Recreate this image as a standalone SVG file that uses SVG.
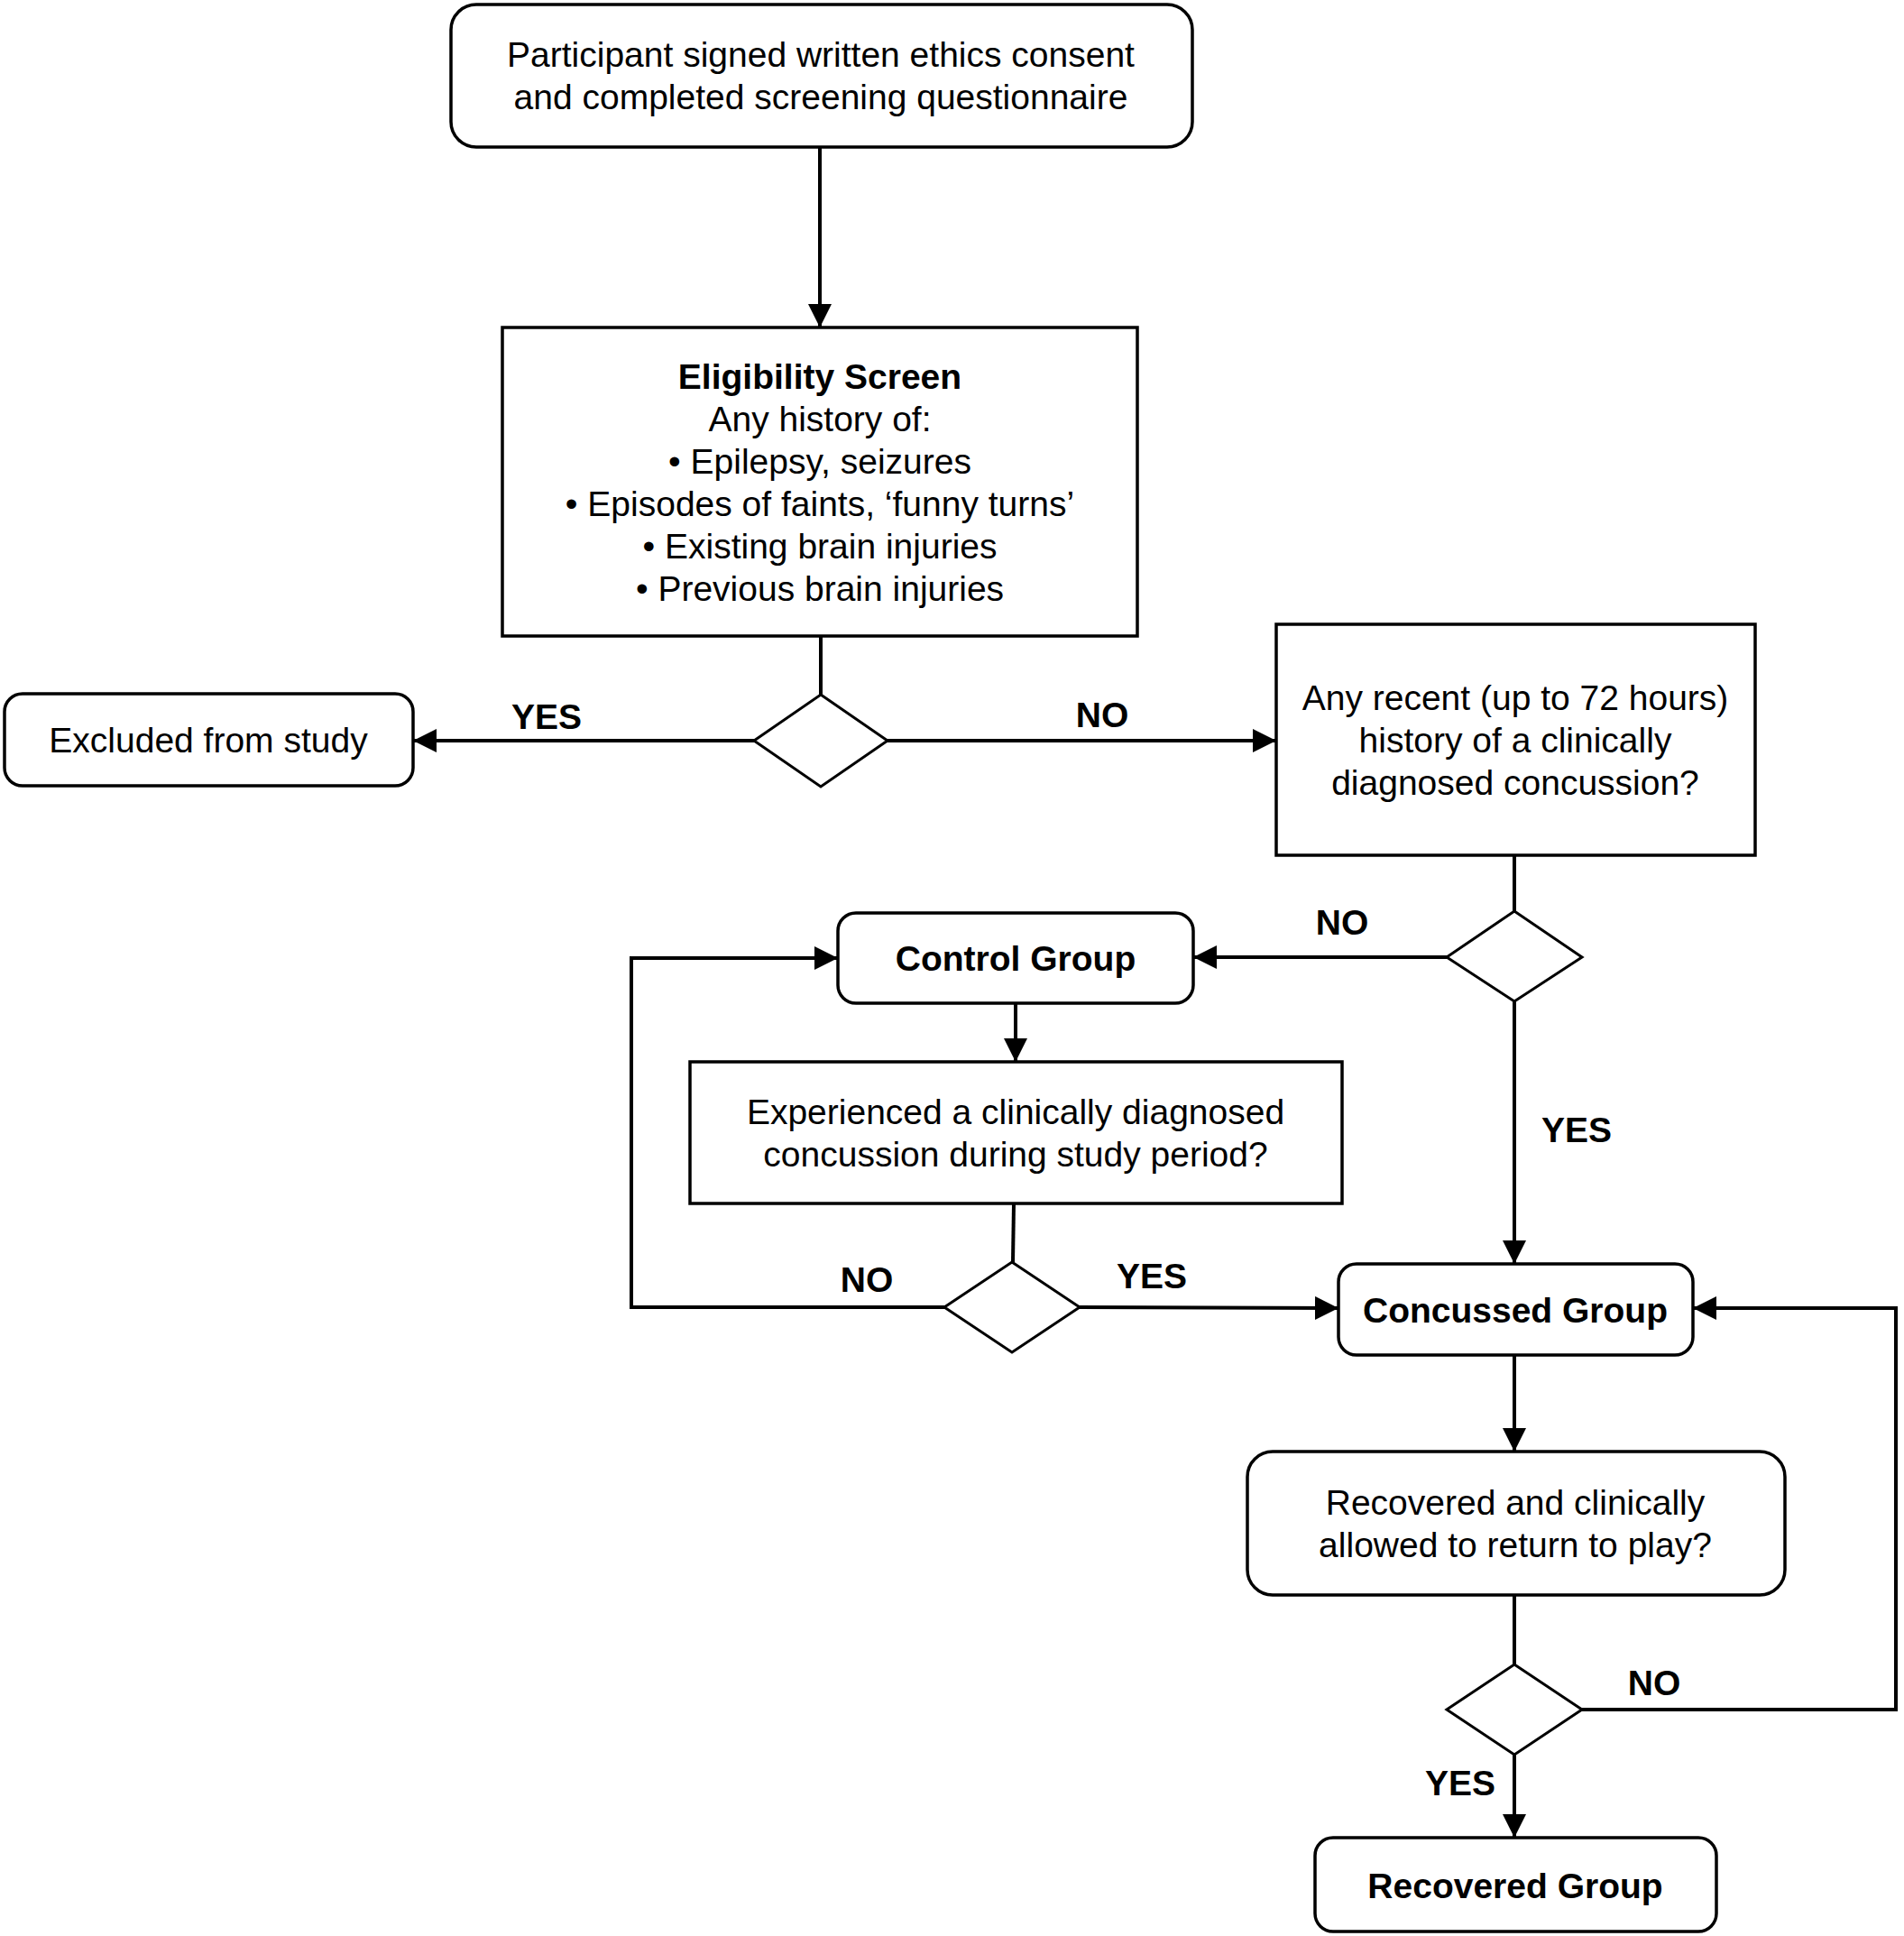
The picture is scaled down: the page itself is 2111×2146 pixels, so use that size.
<svg xmlns="http://www.w3.org/2000/svg" width="2111" height="2146" viewBox="0 0 2111 2146">
<style>
.box{fill:#fff;stroke:#000;stroke-width:3.5}
.dia{fill:#fff;stroke:#000;stroke-width:3}
.t{font-family:"Liberation Sans",Arial,sans-serif;font-size:39px;fill:#000;text-anchor:middle}
.b{font-weight:bold}
.c{fill:none;stroke:#000;stroke-width:4}
</style>
<defs>
<marker id="ah" markerUnits="userSpaceOnUse" markerWidth="27" markerHeight="27" refX="26" refY="13" orient="auto">
<path d="M0,0 L26,13 L0,26 Z" fill="#000"/>
</marker>
</defs>
<rect width="2111" height="2146" fill="#fff"/>
<g id="connectors">
<line class="c" x1="909" y1="163" x2="909" y2="363" marker-end="url(#ah)"/>
<line class="c" x1="910" y1="705" x2="910" y2="770"/>
<line class="c" x1="836" y1="821" x2="458" y2="821" marker-end="url(#ah)"/>
<line class="c" x1="984" y1="821" x2="1415" y2="821" marker-end="url(#ah)"/>
<line class="c" x1="1679" y1="948" x2="1679" y2="1010"/>
<line class="c" x1="1604" y1="1061" x2="1323" y2="1061" marker-end="url(#ah)"/>
<line class="c" x1="1679" y1="1110" x2="1679" y2="1401" marker-end="url(#ah)"/>
<line class="c" x1="1126" y1="1112" x2="1126" y2="1177" marker-end="url(#ah)"/>
<line class="c" x1="1124" y1="1334" x2="1123" y2="1399"/>
<polyline class="c" points="1047,1449 700,1449 700,1062 929,1062" marker-end="url(#ah)"/>
<line class="c" x1="1197" y1="1449" x2="1484" y2="1450" marker-end="url(#ah)"/>
<line class="c" x1="1679" y1="1502" x2="1679" y2="1609" marker-end="url(#ah)"/>
<line class="c" x1="1679" y1="1768" x2="1679" y2="1845"/>
<polyline class="c" points="1754,1895 2102,1895 2102,1450 1877,1450" marker-end="url(#ah)"/>
<line class="c" x1="1679" y1="1945" x2="1679" y2="2037" marker-end="url(#ah)"/>
<text class="t b" x="606" y="808">YES</text>
<text class="t b" x="1222" y="806">NO</text>
<text class="t b" x="1488" y="1036">NO</text>
<text class="t b" x="1748" y="1266">YES</text>
<text class="t b" x="961" y="1432">NO</text>
<text class="t b" x="1277" y="1428">YES</text>
<text class="t b" x="1834" y="1879">NO</text>
<text class="t b" x="1619" y="1990">YES</text>
</g>
<g id="start">
<rect class="box" x="500" y="5" width="822" height="158" rx="28"/>
<text class="t" x="910" y="74">Participant signed written ethics consent</text>
<text class="t" x="910" y="121">and completed screening questionnaire</text>
</g>
<g id="eligibility">
<rect class="box" x="557" y="363" width="704" height="342"/>
<text class="t b" x="909" y="431">Eligibility Screen</text>
<text class="t" x="909" y="478">Any history of:</text>
<text class="t" x="909" y="525">• Epilepsy, seizures</text>
<text class="t" x="909" y="572">• Episodes of faints, ‘funny turns’</text>
<text class="t" x="909" y="619">• Existing brain injuries</text>
<text class="t" x="909" y="666">• Previous brain injuries</text>
</g>
<g id="d1"><polygon class="dia" points="910,770 984,821 910,872 836,821"/></g>
<g id="excluded">
<rect class="box" x="5" y="769" width="453" height="102" rx="20"/>
<text class="t" x="231" y="834">Excluded from study</text>
</g>
<g id="recent">
<rect class="box" x="1415" y="692" width="531" height="256"/>
<text class="t" x="1680" y="787">Any recent (up to 72 hours)</text>
<text class="t" x="1680" y="834">history of a clinically</text>
<text class="t" x="1680" y="881">diagnosed concussion?</text>
</g>
<g id="d2"><polygon class="dia" points="1679,1010 1754,1061 1679,1110 1604,1061"/></g>
<g id="control">
<rect class="box" x="929" y="1012" width="394" height="100" rx="20"/>
<text class="t b" x="1126" y="1076">Control Group</text>
</g>
<g id="experienced">
<rect class="box" x="765" y="1177" width="723" height="157"/>
<text class="t" x="1126" y="1246">Experienced a clinically diagnosed</text>
<text class="t" x="1126" y="1293">concussion during study period?</text>
</g>
<g id="d3"><polygon class="dia" points="1122,1399 1197,1449 1122,1499 1047,1449"/></g>
<g id="concussed">
<rect class="box" x="1484" y="1401" width="393" height="101" rx="20"/>
<text class="t b" x="1680" y="1466">Concussed Group</text>
</g>
<g id="recovered-q">
<rect class="box" x="1383" y="1609" width="596" height="159" rx="28"/>
<text class="t" x="1680" y="1679">Recovered and clinically</text>
<text class="t" x="1680" y="1726">allowed to return to play?</text>
</g>
<g id="d4"><polygon class="dia" points="1679,1845 1754,1895 1679,1945 1604,1895"/></g>
<g id="recovered">
<rect class="box" x="1458" y="2037" width="445" height="104" rx="20"/>
<text class="t b" x="1680" y="2104">Recovered Group</text>
</g>
</svg>
